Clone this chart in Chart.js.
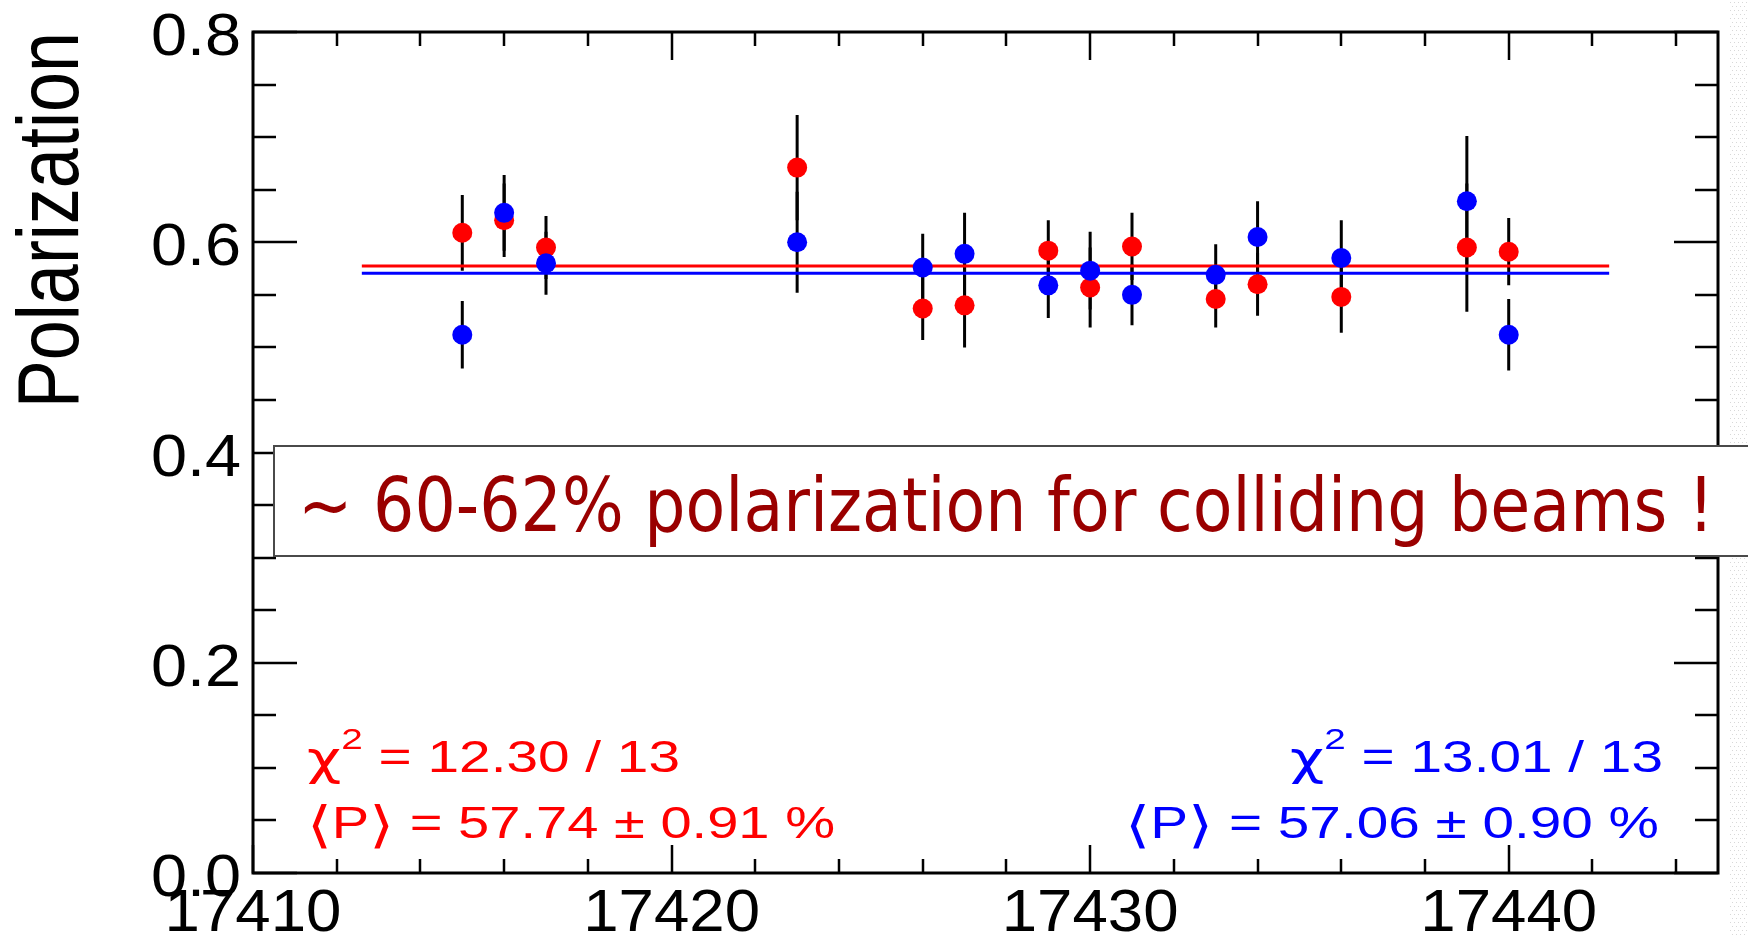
<!DOCTYPE html>
<html>
<head>
<meta charset="utf-8">
<script src="https://cdn.jsdelivr.net/npm/chart.js@4.4.1/dist/chart.umd.min.js"></script>
<style>
  html, body { margin: 0; padding: 0; background: #fff; }
  canvas { display: block; }
</style>
</head>
<body>
<canvas id="polChart" width="1748" height="935"></canvas>
<script>
// Fill numbers (x axis) and polarization per beam
const runs = [17415, 17416, 17417, 17423, 17426, 17427, 17429, 17430, 17431, 17433, 17434, 17436, 17439, 17440]
const redPol = [0.609, 0.621, 0.595, 0.671, 0.537, 0.540, 0.592, 0.557, 0.596, 0.546, 0.560, 0.548, 0.595, 0.591]
const redErr = [0.036, 0.035, 0.030, 0.050, 0.030, 0.040, 0.029, 0.038, 0.032, 0.027, 0.030, 0.034, 0.061, 0.032]
const bluePol = [0.512, 0.628, 0.580, 0.600, 0.576, 0.589, 0.559, 0.573, 0.550, 0.569, 0.605, 0.585, 0.639, 0.512]
const blueErr = [0.032, 0.036, 0.030, 0.048, 0.032, 0.039, 0.031, 0.037, 0.029, 0.029, 0.034, 0.036, 0.062, 0.034]

// constant fits: [red, blue] means, common fit range
const fitMeans = [0.5774, 0.5706]
const fitRange = [17412.6, 17442.4]

// axis labels
const xTickLabels = [17410, 17420, 17430, 17440]
const yTickLabels = ["0.0", "0.2", "0.4", "0.6", "0.8"]

const redStats = ["12.30 / 13", "57.74 \u00b1 0.91 %"]
const blueStats = ["13.01 / 13", "57.06 \u00b1 0.90 %"]
const banner = "~ 60-62% polarization for colliding beams !"

const RED = "#ff0000"
const BLUE = "#0000ff"
const SANS = "'Liberation Sans', Arial"
const GREEK = "'DejaVu Sans'"

function points(vals) {
  return runs.map((r, i) => ({ x: r, y: vals[i] }))
}

function errorSegments(vals, errs) {
  const out = []
  runs.forEach((r, i) => {
    out.push({ x: r, y: vals[i] - errs[i] }, { x: r, y: vals[i] + errs[i] }, { x: r, y: null })
  })
  return out
}

function fitLine(mean) {
  return [{ x: fitRange[0], y: mean }, { x: fitRange[1], y: mean }]
}

// draw text squeezed/stretched horizontally
function stretchText(ctx, text, x, y, sx, align) {
  ctx.save()
  ctx.translate(x, y)
  ctx.scale(sx, 1)
  ctx.textAlign = align || "left"
  ctx.fillText(text, 0, 0)
  ctx.restore()
}

// pieces: [{t, size, dy, font}], fitted into a given width
function drawPieces(ctx, pieces, x, y, width, align, color) {
  ctx.save()
  ctx.fillStyle = color
  ctx.textBaseline = "alphabetic"
  const fontOf = (p) => p.size + "px " + (p.font || SANS)
  let natural = 0
  pieces.forEach((p) => {
    ctx.font = fontOf(p)
    natural += ctx.measureText(p.t).width
  })
  const sx = width / natural
  const x0 = align === "right" ? x - width : x
  ctx.translate(x0, y)
  ctx.scale(sx, 1)
  let cur = 0
  pieces.forEach((p) => {
    ctx.font = fontOf(p)
    ctx.textAlign = "left"
    ctx.fillText(p.t, cur, p.dy || 0)
    cur += ctx.measureText(p.t).width
  })
  ctx.restore()
}

function chiLine(stat) {
  return [
    { t: "\u03c7", size: 46, font: GREEK, dy: 2 },
    { t: "2", size: 30, dy: -23 },
    { t: " = " + stat, size: 44 },
  ]
}

function meanLine(stat) {
  return [
    { t: "\u27e8", size: 50, font: GREEK, dy: 4 },
    { t: "P", size: 44 },
    { t: "\u27e9", size: 50, font: GREEK, dy: 4 },
    { t: " = " + stat, size: 44 },
  ]
}

const rootFrame = {
  id: "rootFrame",
  afterDatasetsDraw(chart) {
    const { ctx, chartArea: a } = chart
    const xs = chart.scales.x
    const ys = chart.scales.y
    ctx.save()
    ctx.strokeStyle = "#000"
    ctx.lineCap = "butt"

    // ticks, pointing inwards
    ctx.lineWidth = 2.5
    ctx.beginPath()
    for (let v = xs.min; v <= xs.max + 1e-6; v += 2) {
      const px = Math.round(xs.getPixelForValue(v))
      const len = v % 10 === 0 ? 28 : 14
      ctx.moveTo(px, a.bottom)
      ctx.lineTo(px, a.bottom - len)
      ctx.moveTo(px, a.top)
      ctx.lineTo(px, a.top + len)
    }
    for (let k = 0; k <= 16; k++) {
      const py = Math.round(ys.getPixelForValue(k * 0.05))
      const len = k % 4 === 0 ? 44 : 23
      ctx.moveTo(a.left, py)
      ctx.lineTo(a.left + len, py)
      ctx.moveTo(a.right, py)
      ctx.lineTo(a.right - len, py)
    }
    ctx.stroke()

    // frame
    ctx.lineWidth = 3
    ctx.strokeRect(a.left, a.top, a.right - a.left, a.bottom - a.top)

    // tick labels
    ctx.fillStyle = "#000"
    ctx.font = "60px " + SANS
    ctx.textBaseline = "alphabetic"
    yTickLabels.forEach((lab) => {
      const py = ys.getPixelForValue(parseFloat(lab))
      stretchText(ctx, lab, a.left - 12, py + 23, 1.08, "right")
    })
    xTickLabels.forEach((lab) => {
      const px = xs.getPixelForValue(lab)
      stretchText(ctx, String(lab), px, a.bottom + 58, 1.06, "center")
    })

    // y title, right aligned to the top of the frame
    ctx.save()
    ctx.font = "72px " + SANS
    ctx.translate(78, a.top)
    ctx.scale(1.2, 1)
    ctx.rotate(-Math.PI / 2)
    ctx.textAlign = "right"
    ctx.fillText("Polarization", 0, 0)
    ctx.restore()

    // fit results
    drawPieces(ctx, chiLine(redStats[0]), 307, 772, 373, "left", RED)
    drawPieces(ctx, meanLine(redStats[1]), 307, 838, 528, "left", RED)
    drawPieces(ctx, chiLine(blueStats[0]), 1663, 772, 373, "right", BLUE)
    drawPieces(ctx, meanLine(blueStats[1]), 1659, 838, 534, "right", BLUE)
    ctx.restore()
  },
  afterDraw(chart) {
    const { ctx } = chart
    ctx.save()
    // slide dotted margin on the right
    ctx.fillStyle = "#d8d8d8"
    for (let yy = 2; yy < 935; yy += 4) {
      for (let xx = 1729; xx < 1748; xx += 4) ctx.fillRect(xx + ((yy / 4) % 2) * 2, yy, 1, 1)
    }
    // banner box
    ctx.fillStyle = "#fff"
    ctx.fillRect(274, 446, 1500, 110)
    ctx.strokeStyle = "#4a4a4a"
    ctx.lineWidth = 2
    ctx.strokeRect(274, 446, 1500, 110)
    ctx.font = "74px 'DejaVu Sans', Verdana"
    ctx.fillStyle = "#9a0000"
    const w = ctx.measureText(banner).width
    stretchText(ctx, banner, 298, 531, 1416 / w, "left")
    ctx.restore()
  },
}

new Chart(document.getElementById("polChart"), {
  type: "line",
  data: {
    datasets: [
      {
        label: "red errors",
        data: errorSegments(redPol, redErr),
        borderColor: "#000",
        borderWidth: 3,
        pointRadius: 0,
        spanGaps: false,
        order: 5,
      },
      {
        label: "blue errors",
        data: errorSegments(bluePol, blueErr),
        borderColor: "#000",
        borderWidth: 3,
        pointRadius: 0,
        spanGaps: false,
        order: 4,
      },
      {
        label: "red fit",
        data: fitLine(fitMeans[0]),
        borderColor: RED,
        borderWidth: 3,
        pointRadius: 0,
        order: 3,
      },
      {
        label: "blue fit",
        data: fitLine(fitMeans[1]),
        borderColor: BLUE,
        borderWidth: 3,
        pointRadius: 0,
        order: 2,
      },
      {
        label: "red beam",
        data: points(redPol),
        showLine: false,
        pointRadius: 10,
        pointBackgroundColor: RED,
        pointBorderWidth: 0,
        order: 1,
      },
      {
        label: "blue beam",
        data: points(bluePol),
        showLine: false,
        pointRadius: 10,
        pointBackgroundColor: BLUE,
        pointBorderWidth: 0,
        order: 0,
      },
    ],
  },
  options: {
    responsive: false,
    devicePixelRatio: 1,
    animation: false,
    events: [],
    layout: { padding: { left: 253, right: 30, top: 32, bottom: 62 } },
    scales: {
      x: { type: "linear", min: 17410, max: 17445, display: false },
      y: { type: "linear", min: 0, max: 0.8, display: false },
    },
    plugins: {
      legend: { display: false },
      tooltip: { enabled: false },
    },
  },
  plugins: [rootFrame],
})
</script>
</body>
</html>
